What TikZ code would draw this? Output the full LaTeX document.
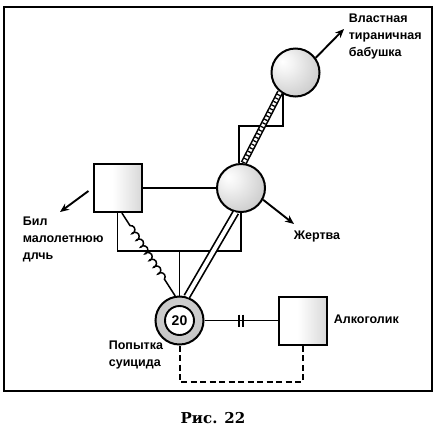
\documentclass[tikz,border=0pt]{standalone}
\usepackage{fontspec}
\setmainfont{Liberation Sans}
\newfontfamily\capfont{DejaVu Serif}
\usetikzlibrary{arrows.meta,decorations.pathmorphing,calc}
\pgfdeclarehorizontalshading{sqshade}{100bp}{color(0bp)=(white); color(45bp)=(white); color(70bp)=(gray!25); color(100bp)=(gray!70)}
\pgfdeclareradialshading{ballshade}{\pgfpoint{-14bp}{12bp}}{color(0bp)=(white); color(10bp)=(gray!10); color(30bp)=(gray!35); color(55bp)=(gray!60); color(70bp)=(gray!65)}
\pgfdeclareradialshading{ringshade}{\pgfpoint{0bp}{10bp}}{color(0bp)=(gray!35); color(30bp)=(gray!45); color(50bp)=(gray!60); color(70bp)=(gray!65)}
\begin{document}
\begin{tikzpicture}[x=1pt,y=-1pt,line width=1.7pt,
  person/.style={draw,line width=2pt,minimum size=48pt,inner sep=0pt},
  sqnode/.style={person,rectangle,shading=sqshade},
  ballnode/.style={person,circle,shading=ballshade},
  ringnode/.style={person,circle,shading=ringshade},
  innernode/.style={draw,line width=1.9pt,circle,fill=white,minimum size=29pt,inner sep=0pt,font=\bfseries\fontsize{14}{14}\selectfont},
  lbl/.style={font=\bfseries\fontsize{12.5}{17}\selectfont,align=left,inner sep=0pt,anchor=west},
  arr/.style={line width=1.9pt,-{Stealth[length=9pt,width=7.5pt]}},
  ladder/.style={line width=6.4pt,postaction={draw=white,line width=3.2pt},postaction={draw=black,line width=3.4pt,dash pattern=on 1.3pt off 2.7pt}},
  dbl/.style={double,double distance=4pt,line width=1.7pt},
  coilline/.style={line width=1.5pt,decorate,decoration={coil,amplitude=2.6pt,segment length=8pt,aspect=0.7,pre length=15pt,post length=16pt}},
  dashline/.style={line width=2pt,dash pattern=on 6pt off 3.5pt}
]
\useasboundingbox (0,0) rectangle (438,432);
\draw[line width=1.8pt] (4,7) rectangle (432,391);

\node[ballnode] (gm) at (295.5,72.5) {};
\node[ballnode] (vic) at (241,188) {};
\node[sqnode] (fa) at (117.5,188) {};
\node[sqnode] (al) at (302.5,320.5) {};
\node[ringnode] (su) at (179.5,320.5) {};
\node[innernode] (suin) at (su.center) {20};

\coordinate (barL) at (117.5,251);
\coordinate (ub) at (239,126);
\coordinate (dsh) at (180,382);
\coordinate (faArr) at (60,212);
\coordinate (vicArr) at (294,224);
\coordinate (gmArr) at (344,29);

% relationships
\draw (fa) -- (vic);
\draw (fa.south) -- (barL) -| (vic.south);
\draw (su.north |- barL) -- (su.north);
\draw (vic.north -| ub) -- (ub) -| (gm.240);
\draw[ladder] (vic.84) -- (gm.232);
\draw[dbl] (vic.258) -- (su.73);
\draw[coilline] (fa.-80) -- (su.100);
\draw (su.east) -- coordinate[midway] (brk) (al.west);
\draw[line width=1.8pt] ($(brk)+(-2,-6)$) -- ++(0,12) ($(brk)+(2,-6)$) -- ++(0,12);
\draw[dashline] (su.south) -- (su.south |- dsh) -| (al.south);

% arrows
\draw[arr,shorten <=5pt] (fa.west) -- (faArr);
\draw[arr] (vic.-28) -- (vicArr);
\draw[arr] (gm.36) -- (gmArr);

% labels
\node[lbl] (tgm) at (348,36) {Властная\\тираничная\\бабушка};
\node[lbl] (tvic) at (293,236) {Жертва};
\node[lbl] (tfa) at (22,239.5) {Бил\\малолетнюю\\длчь};
\node[lbl] (tsu) at (108,355) {Попытка\\суицида};
\node[lbl] (tal) at (333,319.5) {Алкоголик};
\node[font=\capfont\bfseries\fontsize{15}{15}\selectfont,inner sep=0pt] (cap) at (213,418) {Рис. 22};
\end{tikzpicture}
\end{document}
